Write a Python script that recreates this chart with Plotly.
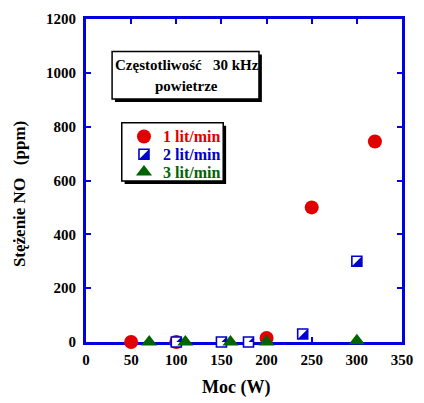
import plotly.graph_objects as go

# NO concentration vs. discharge power for three air flow rates
x_1 = [50, 100, 200, 250, 320]
y_1 = [0, 0, 15, 500, 745]
x_2 = [100, 150, 180, 240, 300]
y_2 = [0, 0, 0, 30, 300]
x_3 = [70, 110, 160, 200, 300]
y_3 = [0, 0, 0, 0, 5]
series_names = ["1 lit/min", "2 lit/min", "3 lit/min"]
x_ticks = [0, 50, 100, 150, 200, 250, 300, 350]
y_ticks = [0, 200, 400, 600, 800, 1000, 1200]

RED = "#e00000"
BLUE = "#0000cc"
GREEN = "#006400"
AXIS = "#0000e0"
FONT = "Liberation Serif"

# plot area in pixels (the overlay axes use it for boxes and labels)
L, R, T, B = 86, 413, 15, 342
W, H = 424, 403


def px_to_paper(px, py):
    return (px - L) / (R - L), (B - py) / (B - T)


fig = go.Figure()

fig.add_trace(go.Scatter(x=x_1, y=y_1, mode="markers", name=series_names[0],
                         marker=dict(symbol="circle", size=14, color=RED, line=dict(width=0)),
                         cliponaxis=False))
fig.add_trace(go.Scatter(x=x_2, y=y_2, mode="markers", name=series_names[1],
                         marker=dict(symbol="square", size=10, color="white",
                                     line=dict(width=1.6, color=BLUE)),
                         cliponaxis=False))

shapes = []
HALF = 5


def half_square(xref, yref, xa, ya):
    # lower-right filled half of the square marker
    return dict(type="path", xref=xref, yref=yref, xsizemode="pixel", ysizemode="pixel",
                xanchor=xa, yanchor=ya,
                path=f"M {-HALF},{-HALF} L {HALF},{-HALF} L {HALF},{HALF} Z",
                fillcolor=BLUE, line=dict(width=0), layer="above")


for xv, yv in zip(x_2, y_2):
    shapes.append(half_square("x", "y", xv, yv))

fig.add_trace(go.Scatter(x=x_3, y=y_3, mode="markers", name=series_names[2],
                         marker=dict(symbol="triangle-up", size=14, color=GREEN, line=dict(width=0)),
                         cliponaxis=False))

# legend key symbols on a pixel-scaled overlay axis
key_x = 146
key_y = [134, 152, 170]
fig.add_trace(go.Scatter(x=[key_x], y=[key_y[0]], xaxis="x2", yaxis="y2", mode="markers",
                         marker=dict(symbol="circle", size=14, color=RED)))
fig.add_trace(go.Scatter(x=[key_x], y=[key_y[1]], xaxis="x2", yaxis="y2", mode="markers",
                         marker=dict(symbol="square", size=10, color="white",
                                     line=dict(width=1.6, color=BLUE))))
shapes.append(half_square("x2", "y2", key_x, key_y[1]))
fig.add_trace(go.Scatter(x=[key_x], y=[key_y[2]], xaxis="x2", yaxis="y2", mode="markers",
                         marker=dict(symbol="triangle-up", size=14, color=GREEN)))


def shadow_box(x0, x1, y0, y1, off=3):
    return [dict(type="rect", xref="x2", yref="y2", x0=x0 + off, x1=x1 + off,
                 y0=y0 + off, y1=y1 + off, fillcolor="black", line=dict(width=0), layer="below"),
            dict(type="rect", xref="x2", yref="y2", x0=x0, x1=x1, y0=y0, y1=y1,
                 fillcolor="white", line=dict(width=1.5, color="black"), layer="below")]


shapes += shadow_box(123, 228, 120, 179)   # legend frame
shapes += shadow_box(113, 265, 48, 96)     # title box

annotations = []
for name, yk, col in zip(series_names, key_y, [RED, BLUE, GREEN]):
    annotations.append(dict(xref="x2", yref="y2", x=164, y=yk, xanchor="left", yanchor="middle",
                            text=name, showarrow=False,
                            font=dict(family=FONT, size=16, color=col, weight="bold")))

for txt, yy in [("Częstotliwość\u00a0\u00a0 30 kHz", 62), ("powietrze", 83)]:
    annotations.append(dict(xref="x2", yref="y2", x=190, y=yy, xanchor="center", yanchor="middle",
                            text=txt, showarrow=False,
                            font=dict(family=FONT, size=15, color="black", weight="bold")))

# axis titles, placed in paper coordinates outside the plot area
tx, ty = px_to_paper(241, 388)
annotations.append(dict(xref="paper", yref="paper", x=tx, y=ty, xanchor="center", yanchor="middle",
                        text="Moc (W)", showarrow=False,
                        font=dict(family=FONT, size=18, color="black", weight="bold")))
tx, ty = px_to_paper(18, 192)
annotations.append(dict(xref="paper", yref="paper", x=tx, y=ty, xanchor="center", yanchor="middle",
                        text="Stężenie NO\u00a0\u00a0\u00a0(ppm)", showarrow=False, textangle=-90,
                        font=dict(family=FONT, size=17, color="black", weight="bold")))

fig.update_layout(
    width=W, height=H,
    margin=dict(l=L, r=W - R, t=T, b=H - B),
    paper_bgcolor="white", plot_bgcolor="white",
    font=dict(family=FONT, size=15, color="black", weight="bold"),
    shapes=shapes, annotations=annotations,
    showlegend=False,
    xaxis=dict(range=[0, 350], tickvals=x_ticks, ticks="inside", ticklen=5, tickwidth=1.5,
               tickcolor=AXIS, showline=True, linecolor=AXIS, linewidth=3, mirror="ticks",
               showgrid=False, zeroline=False, layer="below traces", ticklabelstandoff=2,
               tickfont=dict(family=FONT, size=15, weight="bold")),
    yaxis=dict(range=[0, 1200], tickvals=y_ticks, ticks="inside", ticklen=5, tickwidth=1.5,
               tickcolor=AXIS, showline=True, linecolor=AXIS, linewidth=3, mirror="ticks",
               showgrid=False, zeroline=False, layer="below traces", ticklabelstandoff=4,
               tickfont=dict(family=FONT, size=15, weight="bold")),
    xaxis2=dict(range=[L, R], overlaying="x", anchor="y2", visible=False, fixedrange=True),
    yaxis2=dict(range=[B, T], overlaying="y", anchor="x2", visible=False, fixedrange=True),
)

fig.write_html("out.html")
